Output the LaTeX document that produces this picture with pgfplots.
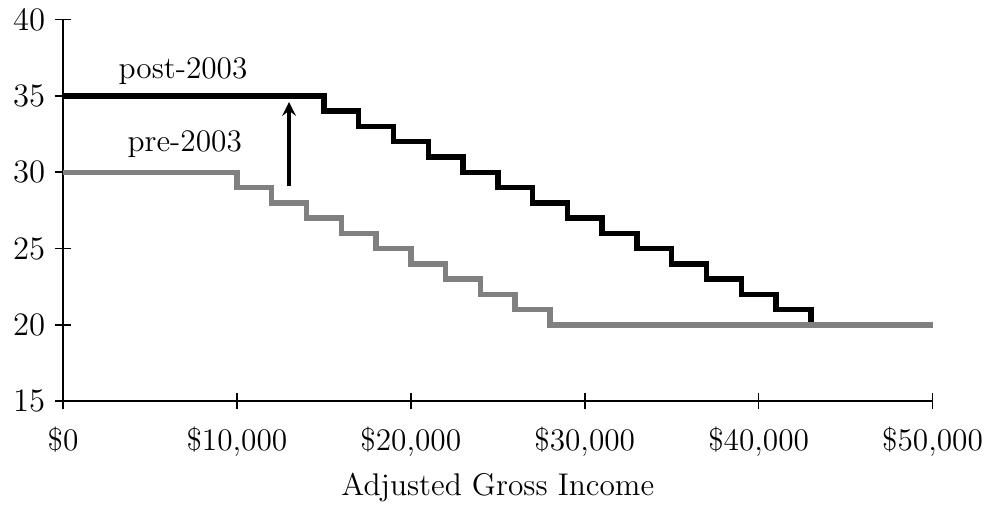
\documentclass[border=0pt]{standalone}
\usepackage{pgfplots}
\pgfplotsset{compat=1.18}
\begin{document}
\begin{tikzpicture}[font=\fontsize{11.5}{13.5}\selectfont]
\begin{axis}[
  width=319pt, height=140pt, scale only axis,
  xmin=0, xmax=50000, ymin=15, ymax=40,
  axis x line=bottom, axis y line=left,
  axis line style={-, line width=0.6pt},
  tick align=center, major tick length=6pt,
  tick style={line width=0.6pt, black},
  scaled x ticks=false,
  tick label style={font=\fontsize{11.5}{13.5}\selectfont},
  label style={font=\fontsize{11.5}{13.5}\selectfont},
  xtick={0,10000,20000,30000,40000,50000},
  xticklabels={{\$0},{\$10,000},{\$20,000},{\$30,000},{\$40,000},{\$50,000}},
  ytick={15,20,25,30,35,40},
  xlabel={Adjusted Gross Income},
  xlabel style={yshift=1pt},
  xticklabel style={yshift=-3pt},
  clip=false,
]
\addplot[const plot, line width=2pt, black] coordinates {
(0,35)(15000,34)(17000,33)(19000,32)(21000,31)(23000,30)(25000,29)(27000,28)(29000,27)(31000,26)(33000,25)(35000,24)(37000,23)(39000,22)(41000,21)(43000,20)
};
\addplot[const plot, line width=2pt, gray] coordinates {
(0,30)(10000,29)(12000,28)(14000,27)(16000,26)(18000,25)(20000,24)(22000,23)(24000,22)(26000,21)(28000,20)(50000,20)
};
\draw[-stealth, line width=1.2pt] (axis cs:13000,29.1) -- (axis cs:13000,34.6);
\node at (axis cs:6900,36.65) {post-2003};
\node at (axis cs:7000,31.85) {pre-2003};
\end{axis}
\path ([xshift=-1.5pt]current bounding box.west);
\end{tikzpicture}
\end{document}
